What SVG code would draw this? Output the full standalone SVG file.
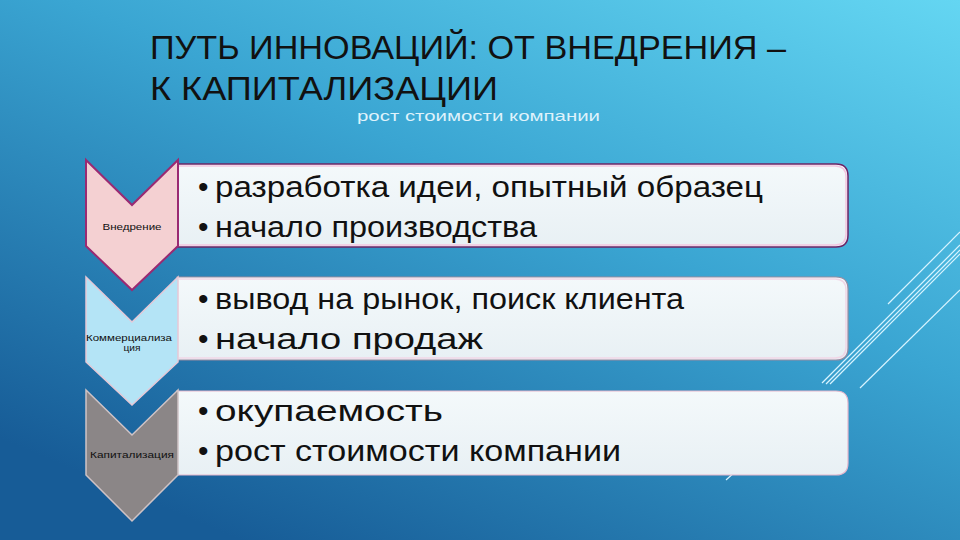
<svg xmlns="http://www.w3.org/2000/svg" width="960" height="540" viewBox="0 0 960 540">
  <defs>
    <linearGradient id="bg" x1="1" y1="0" x2="0.25" y2="1">
      <stop offset="0" stop-color="#64d6f2"/>
      <stop offset="0.45" stop-color="#3aa5d2"/>
      <stop offset="1" stop-color="#175c97"/>
    </linearGradient>
    <linearGradient id="boxfill" x1="0" y1="0" x2="0" y2="1">
      <stop offset="0" stop-color="#f4f9fb"/>
      <stop offset="1" stop-color="#e8f0f4"/>
    </linearGradient>
    <style>
      .title{font-family:"Liberation Sans","DejaVu Sans",sans-serif;font-size:34px;fill:#111}
      .sub{font-family:"Liberation Sans","DejaVu Sans",sans-serif;font-size:15px;fill:#dff2fb}
      .item{font-family:"Liberation Sans","DejaVu Sans",sans-serif;font-size:30px;fill:#111}
      .lbl{font-family:"Liberation Sans","DejaVu Sans",sans-serif;font-size:9px;fill:#111;text-anchor:middle}
      .deco{stroke:#d8f4ff;stroke-width:1.2;fill:none}
      .box{fill:url(#boxfill)}
    </style>
  </defs>

  <rect width="960" height="540" fill="url(#bg)"/>

  <g id="decor">
    <line class="deco" x1="822" y1="383" x2="960" y2="245"/>
    <line class="deco" x1="826" y1="384" x2="960" y2="250" stroke-width="2"/>
    <line class="deco" x1="830" y1="384" x2="960" y2="254" stroke-width="0.8"/>
    <line class="deco" x1="888" y1="304" x2="960" y2="232" stroke-width="0.8"/>
    <line class="deco" x1="860" y1="388" x2="960" y2="290" stroke-width="1.8"/>
    <line class="deco" x1="726" y1="480" x2="736" y2="471" stroke-width="0.8"/>
  </g>

  <g id="title">
    <text class="title" x="150" y="59" textLength="636" lengthAdjust="spacingAndGlyphs">ПУТЬ ИННОВАЦИЙ: ОТ ВНЕДРЕНИЯ –</text>
    <text class="title" x="150" y="100" textLength="348" lengthAdjust="spacingAndGlyphs">К КАПИТАЛИЗАЦИИ</text>
    <text class="sub" x="357" y="121" textLength="243" lengthAdjust="spacingAndGlyphs">рост стоимости компании</text>
  </g>

  <g id="connectors"></g>

  <g id="box1">
    <path class="box" d="M177,164 H836 Q848,164 848,176 V235 Q848,247 836,247 H177 Z" stroke="#6e2466" stroke-width="1.5"/>
    <path d="M179,166 H835 Q846,166 846,177 V234 Q846,245 835,245 H179" fill="none" stroke="#f3c6e0" stroke-width="1.5"/>
    <text class="item" x="198" y="197"><tspan>•</tspan><tspan x="215" textLength="548" lengthAdjust="spacingAndGlyphs">разработка идеи, опытный образец</tspan></text>
    <text class="item" x="198" y="237"><tspan>•</tspan><tspan x="215" textLength="322" lengthAdjust="spacingAndGlyphs">начало производства</tspan></text>
  </g>

  <g id="box2">
    <path class="box" d="M177,277 H836 Q848,277 848,289 V348 Q848,360 836,360 H177 Z" stroke="#9a8aa0" stroke-width="1.2"/>
    <path d="M179,279 H835 Q846,279 846,290 V347 Q846,358 835,358 H179" fill="none" stroke="#f1d6e6" stroke-width="1.5"/>
    <text class="item" x="198" y="309"><tspan>•</tspan><tspan x="215" textLength="469" lengthAdjust="spacingAndGlyphs">вывод на рынок, поиск клиента</tspan></text>
    <text class="item" x="198" y="349"><tspan>•</tspan><tspan x="215" textLength="268" lengthAdjust="spacingAndGlyphs">начало продаж</tspan></text>
  </g>

  <g id="box3">
    <path class="box" d="M177,391 H836 Q848,391 848,403 V463 Q848,475 836,475 H177 Z" stroke="#e4b6cc" stroke-width="1.2"/>
    <text class="item" x="198" y="421"><tspan>•</tspan><tspan x="215" textLength="228" lengthAdjust="spacingAndGlyphs">окупаемость</tspan></text>
    <text class="item" x="198" y="461"><tspan>•</tspan><tspan x="215" textLength="406" lengthAdjust="spacingAndGlyphs">рост стоимости компании</tspan></text>
  </g>

  <g id="chevron1">
    <polygon points="86,160 132,205 178,160 178,246 132,290 86,246" fill="#f4d0d2" stroke="#9a2a72" stroke-width="2" stroke-linejoin="miter"/>
    <text class="lbl" x="132" y="230" textLength="59" lengthAdjust="spacingAndGlyphs">Внедрение</text>
  </g>

  <g id="chevron2">
    <polygon points="86,277 132,322 178,277 178,362 132,405 86,362" fill="#b4e4f6" stroke="#e6c8d6" stroke-width="1.5"/>
    <text class="lbl" x="129" y="341" textLength="86" lengthAdjust="spacingAndGlyphs">Коммерциализа</text>
    <text class="lbl" x="132" y="351" textLength="17" lengthAdjust="spacingAndGlyphs">ция</text>
  </g>

  <g id="chevron3">
    <polygon points="86,390 132,435 178,390 178,475 132,521 86,475" fill="#8b8687" stroke="#cfc3c6" stroke-width="1.5"/>
    <text class="lbl" x="132" y="458" textLength="84" lengthAdjust="spacingAndGlyphs">Капитализация</text>
  </g>
</svg>
